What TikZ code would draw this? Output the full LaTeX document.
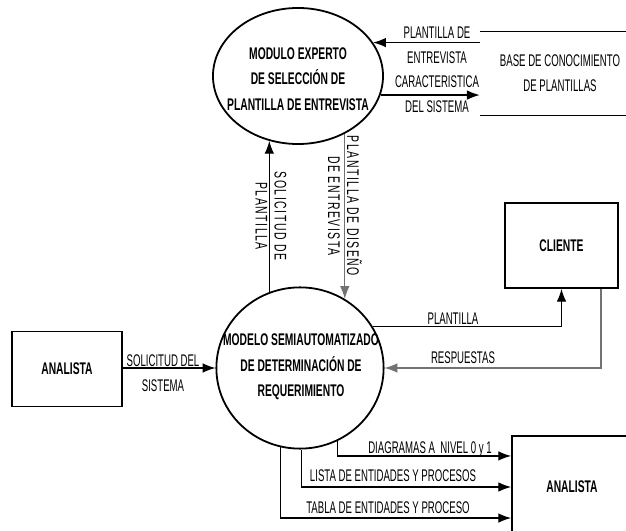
\documentclass[tikz,border=0pt]{standalone}
\usepackage{fontspec}
\setmainfont{Liberation Sans}[FakeStretch=0.57]
\newfontfamily\boldcond{Liberation Sans Bold}[FakeStretch=0.61]
\newfontfamily\vertcond{Liberation Sans}[FakeStretch=0.62,LetterSpace=9]
\usepackage{tikz}
\usetikzlibrary{shapes}
\usetikzlibrary{arrows.meta}
\usetikzlibrary{positioning}
\usetikzlibrary{calc}
\colorlet{resp}{black!55}

\begin{document}
\begin{tikzpicture}[
  x=0.025cm, y=-0.025cm,
  dep/.style ={
    -{Latex[length=3.2mm,width=2.4mm]},line width=0.3mm
  },
  proc/.style 2 args={
    ellipse,
    draw,
    line width=0.45mm,
    minimum width=#1,
    minimum height=#2,
    inner sep=0pt},
  ent/.style 2 args={
    rectangle,
    draw,
    line width=0.45mm,
    minimum width=#1,
    minimum height=#2,
    font=\fontsize{12}{18}\boldcond},
  ptxt/.style={
    align=center,
    font=\fontsize{12}{18.3}\boldcond},
  lbl/.style={
    align=center,
    inner sep=1pt,
    font=\fontsize{12}{17.7}\selectfont},
  vlbl/.style={
    align=center,
    inner sep=1pt,
    rotate=-90,
    font=\fontsize{12}{13.6}\vertcond},
]

  \useasboundingbox (0,0) rectangle (626,531);
  \clip (0,0) rectangle (626,531);

    % Procesos
  \node[proc={4.25cm}{3.4cm}] (mod) at (298,76) {};
  \node[ptxt] at (298,79) {MODULO EXPERTO\\DE SELECCIÓN DE\\PLANTILLA DE ENTREVISTA};

  \node[proc={4.18cm}{4.03cm}] (req) at (300,368) {};
  \node[ptxt] at (301,367) {MODELO SEMIAUTOMATIZADO\\DE DETERMINACIÓN DE\\REQUERIMIENTO};

    % Entidades externas y almacen
  \node[ent={2.75cm}{1.875cm}] (an1) at (67,369) {ANALISTA};
  \node[ent={2.825cm}{2.125cm}] (cli) at (561.5,245.5) {CLIENTE};
  \node[ent={3cm}{2.55cm}] (an2) at (572,487) {ANALISTA};

  \node[lbl, rectangle, minimum width=4cm, minimum height=2.075cm] (store)
      at (560,73.5) {BASE DE CONOCIMIENTO\\DE PLANTILLAS};
  \draw[line width=0.3mm] (store.north west) -- (store.north east);
  \draw[line width=0.3mm] (store.south west) -- (store.south east);

    % Flujos con el almacen
  \draw[dep] (store.west |- mod.24) -- (mod.24);
  \draw[dep] (mod.-13) -- (store.west |- mod.-13);
  \node[lbl] at (437,45.5) {PLANTILLA DE\\ENTREVISTA};
  \node[lbl] at (437,94.5) {CARACTERISTICA\\DEL SISTEMA};

    % Flujos entre procesos
  \draw[dep] (req.112) -- (req.112 |- mod.246);
  \draw[dep,resp] (mod.-51) -- (mod.-51 |- req.57);
  \node[vlbl] at (271,216) {SOLICITUD DE\\PLANTILLA};
  \node[vlbl] at (345,206) {PLANTILLA DE DISEÑO\\DE ENTREVISTA};

    % Analista y cliente
  \draw[dep] (an1.east |- req.west) -- (req.west);
  \node[lbl] at (163,373) {SOLICITUD DEL\\SISTEMA};

  \draw[dep] (req.30) -| (cli.south);
  \draw[dep,resp] ($ (cli.south east) + (-18,0) $) |- (req.east);
  \node[lbl] at (453,319) {PLANTILLA};
  \node[lbl] at (463,358) {RESPUESTAS};

    % Salidas
  \draw[dep] (req.-63) |- (an2.153);
  \draw[dep] (req.-89) |- (an2.west);
  \draw[dep] (req.256) |- (an2.207);
  \node[lbl] at (430,449) {DIAGRAMAS A\ \ NIVEL 0 y 1};
  \node[lbl] at (393,476) {LISTA DE ENTIDADES Y PROCESOS};
  \node[lbl] at (388,508) {TABLA DE ENTIDADES Y PROCESO};

\end{tikzpicture}
\end{document}
